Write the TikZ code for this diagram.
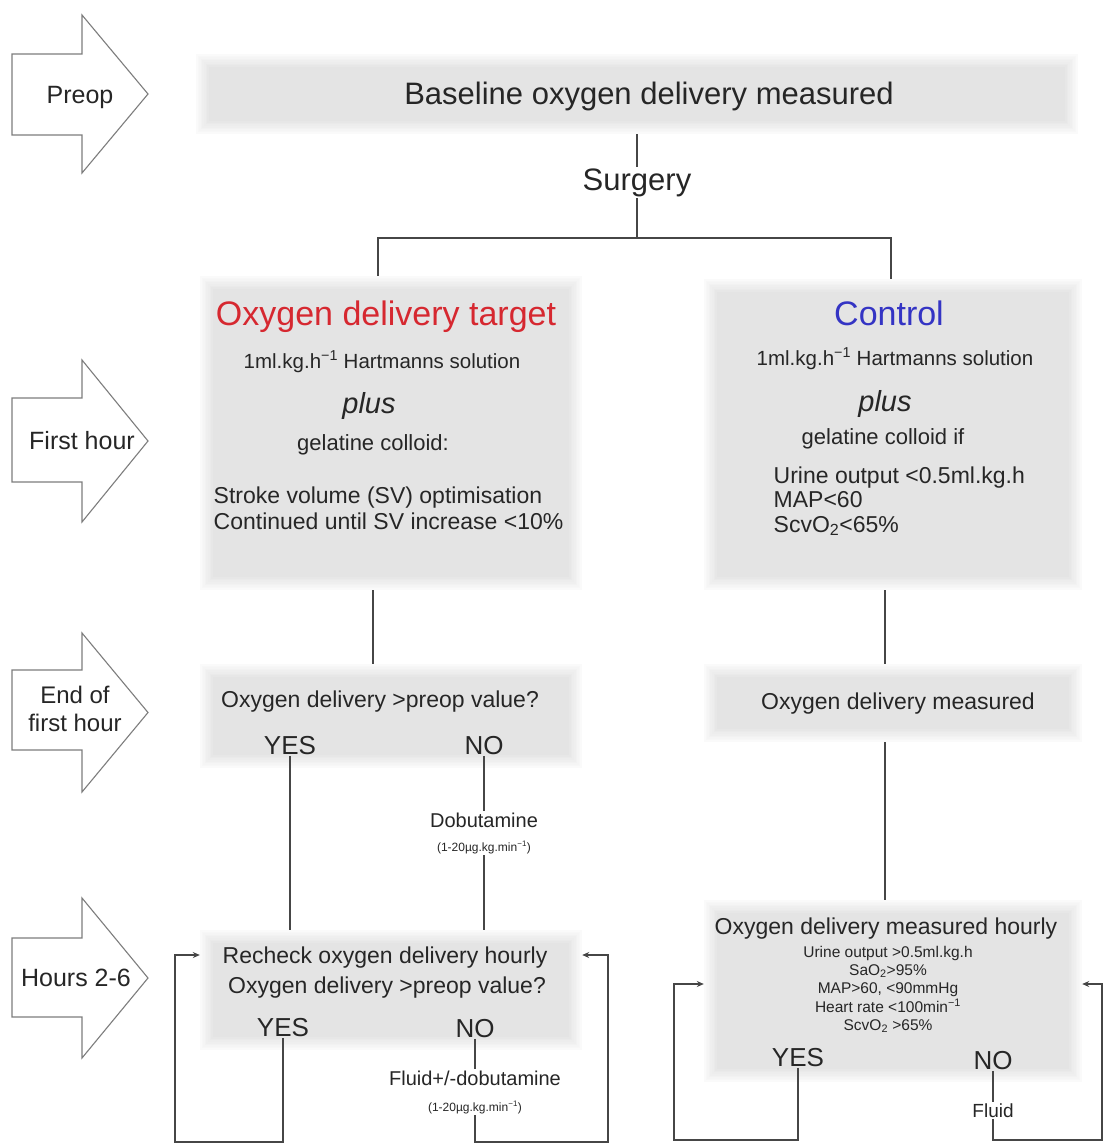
\documentclass[tikz,border=0pt]{standalone}
\usepackage{fontspec}
\setmainfont{Liberation Sans}
\usetikzlibrary{arrows.meta,calc}
\definecolor{linegray}{RGB}{70,70,70}
\definecolor{outlinegray}{RGB}{125,125,125}
\definecolor{tgtred}{RGB}{214,40,48}
\definecolor{ctlblue}{RGB}{52,52,196}
\newcommand{\fsz}[1]{\fontsize{#1}{#1}\selectfont}
% white block arrow marking a phase: shaft top, shaft bottom, head top, head bottom
\newcommand{\phasearrow}[4]{%
  \draw[outlinegray, line width=1.1pt, fill=white, line join=miter]
    (12,#1) -- (82,#1) -- (82,#3) -- (148,{(#3+#4)/2}) -- (82,#4) -- (82,#2) -- (12,#2) -- cycle;}

\begin{document}
\begin{tikzpicture}[x=1pt,y=-1pt,
  softbox/.style 2 args={draw=none, fill=black!2, inner sep=0pt,
    minimum width=#1, minimum height=#2,
    path picture={
      \foreach \i in {1,...,8}{
        \pgfmathsetmacro{\shd}{2+\i*1.05}
        \fill[black!\shd] ($(path picture bounding box.south west)+(1.6*\i,-1.6*\i)$)
          rectangle ($(path picture bounding box.north east)+(-1.6*\i,1.6*\i)$);
      }
    }},
  txt/.style={inner sep=1.5pt, anchor=base, text=black!85},
  conn/.style={draw=linegray, line width=1.1pt},
  arr/.style={conn, -{Stealth[length=7pt,width=6pt]}}
]
\useasboundingbox (0,0) rectangle (1105,1145);
\fill[white] (0,0) rectangle (1105,1145);

% phase arrows on the left
\phasearrow{54}{135}{15}{173}
\phasearrow{398}{482}{360}{522}
\phasearrow{670}{750}{633}{792}
\phasearrow{938}{1017}{898}{1058}
\node[txt, font=\fsz{25}] (pPreop) at (80,104) {Preop};
\node[txt, font=\fsz{25}] (pFirst) at (82,449) {First hour};
\node[txt, font=\fsz{24}] (pEndA) at (75,703) {End of};
\node[txt, font=\fsz{24}] (pEndB) at (75,731) {first hour};
\node[txt, font=\fsz{25}] (pHours) at (76,986) {Hours 2-6};

% shaded boxes
\node[softbox={882}{80}] (base) at (637,94) {};
\node[softbox={382}{314}] (target) at (391,433) {};
\node[softbox={378}{311}] (control) at (893,434.5) {};
\node[softbox={382}{104}] (q1) at (391,716) {};
\node[softbox={378}{78}] (m1) at (893,703) {};
\node[softbox={382}{120}] (recheck) at (391,990) {};
\node[softbox={378}{182}] (hourly) at (893,991) {};

% baseline and surgery
\node[txt, font=\fsz{31}] (basetxt) at (649,105) {Baseline oxygen delivery measured};
\node[txt, font=\fsz{31}] (surg) at (637,190) {Surgery};

% oxygen delivery target arm
\node[txt, font=\fsz{34}, text=tgtred] (tgtttl) at (386,325) {Oxygen delivery target};
\node[txt, font=\fsz{20.5}] (tgtA) at (382,368) {1ml.kg.h\textsuperscript{−1} Hartmanns solution};
\node[txt, font=\fsz{29}\itshape] (tgtB) at (369,413) {plus};
\node[txt, font=\fsz{22}] (tgtC) at (373,450) {gelatine colloid:};
\node[txt, font=\fsz{23}, anchor=base west] (tgtD) at (212,503) {Stroke volume (SV) optimisation};
\node[txt, font=\fsz{23}, anchor=base west] (tgtE) at (212,529) {Continued until SV increase <10\%};

% control arm
\node[txt, font=\fsz{34}, text=ctlblue] (ctlttl) at (889,325) {Control};
\node[txt, font=\fsz{20.5}] (ctlA) at (895,365) {1ml.kg.h\textsuperscript{−1} Hartmanns solution};
\node[txt, font=\fsz{29}\itshape] (ctlB) at (885,411) {plus};
\node[txt, font=\fsz{22}] (ctlC) at (883,444) {gelatine colloid if};
\node[txt, font=\fsz{23}, anchor=base west] (ctlD) at (772,483) {Urine output <0.5ml.kg.h};
\node[txt, font=\fsz{23}, anchor=base west] (ctlE) at (772,507) {MAP<60};
\node[txt, font=\fsz{23}, anchor=base west] (ctlF) at (772,532) {ScvO\textsubscript{2}<65\%};

% end of first hour
\node[txt, font=\fsz{23}] (q1txt) at (380,707) {Oxygen delivery >preop value?};
\node[txt, font=\fsz{26}] (yes1) at (290,754) {YES};
\node[txt, font=\fsz{26}] (no1) at (484,754) {NO};
\node[txt, font=\fsz{23}] (m1txt) at (898,709) {Oxygen delivery measured};
\node[txt, font=\fsz{20}] (dob) at (484,827) {Dobutamine};
\node[txt, font=\fsz{12}] (dobdose) at (484,851) {(1-20µg.kg.min\textsuperscript{−1})};

% hours 2-6, target arm
\node[txt, font=\fsz{23}] (rcA) at (385,963) {Recheck oxygen delivery hourly};
\node[txt, font=\fsz{23}] (rcB) at (387,993) {Oxygen delivery >preop value?};
\node[txt, font=\fsz{26}] (yes2) at (283,1036) {YES};
\node[txt, font=\fsz{26}] (no2) at (475,1037) {NO};
\node[txt, font=\fsz{20}] (fluiddob) at (475,1085) {Fluid+/-dobutamine};
\node[txt, font=\fsz{12}] (fluiddose) at (475,1111) {(1-20µg.kg.min\textsuperscript{−1})};

% hours 2-6, control arm
\node[txt, font=\fsz{23}] (hrA) at (886,934) {Oxygen delivery measured hourly};
\node[txt, font=\fsz{15.5}] (hrB) at (888,957) {Urine output >0.5ml.kg.h};
\node[txt, font=\fsz{15.5}] (hrC) at (888,975) {SaO\textsubscript{2}>95\%};
\node[txt, font=\fsz{15.5}] (hrD) at (888,993) {MAP>60, <90mmHg};
\node[txt, font=\fsz{15.5}] (hrE) at (888,1012) {Heart rate <100min\textsuperscript{−1}};
\node[txt, font=\fsz{15.5}] (hrF) at (888,1030) {ScvO\textsubscript{2} >65\%};
\node[txt, font=\fsz{26}] (yes3) at (798,1066) {YES};
\node[txt, font=\fsz{26}] (no3) at (993,1069) {NO};
\node[txt, font=\fsz{19}] (fluid) at (993,1117) {Fluid};

% junction and loop corners
\coordinate (jl) at (378,238);
\coordinate (jr) at (891,238);
\coordinate (lpL) at (175,1142);
\coordinate (lpR) at (608,1142);
\coordinate (rcin) at (0,955);
\coordinate (lpL2) at (674,1140);
\coordinate (lpR2) at (1102,1140);
\coordinate (hin) at (0,984);

% connectors
\draw[conn] (base.south -| surg) -- (surg.north);
\draw[conn] (surg.south) -- (surg.south |- jl);
\draw[conn] (target.north -| jl) -- (jl) -- (jr) -- (control.north -| jr);
\draw[conn] ([xshift=-18pt]target.south) -- ([xshift=-18pt]q1.north);
\draw[conn] ([xshift=-8pt]control.south) -- ([xshift=-8pt]m1.north);
\draw[conn] (yes1.south) -- (yes1.south |- recheck.north);
\draw[conn] (no1.south) -- (dob.north);
\draw[conn] (dobdose.south) -- (dobdose.south |- recheck.north);
\draw[conn] ([xshift=-8pt]m1.south) -- ([xshift=-8pt]hourly.north);

\draw[arr] (yes2.south) |- (lpL) |- (recheck.west |- rcin);
\draw[conn] (no2.south) -- (fluiddob.north);
\draw[arr] (fluiddose.south) |- (lpR) |- (recheck.east |- rcin);

\draw[arr] (yes3.south) |- (lpL2) |- (hourly.west |- hin);
\draw[conn] (no3.south) -- (fluid.north);
\draw[arr] (fluid.south) |- (lpR2) |- (hourly.east |- hin);
\end{tikzpicture}
\end{document}
